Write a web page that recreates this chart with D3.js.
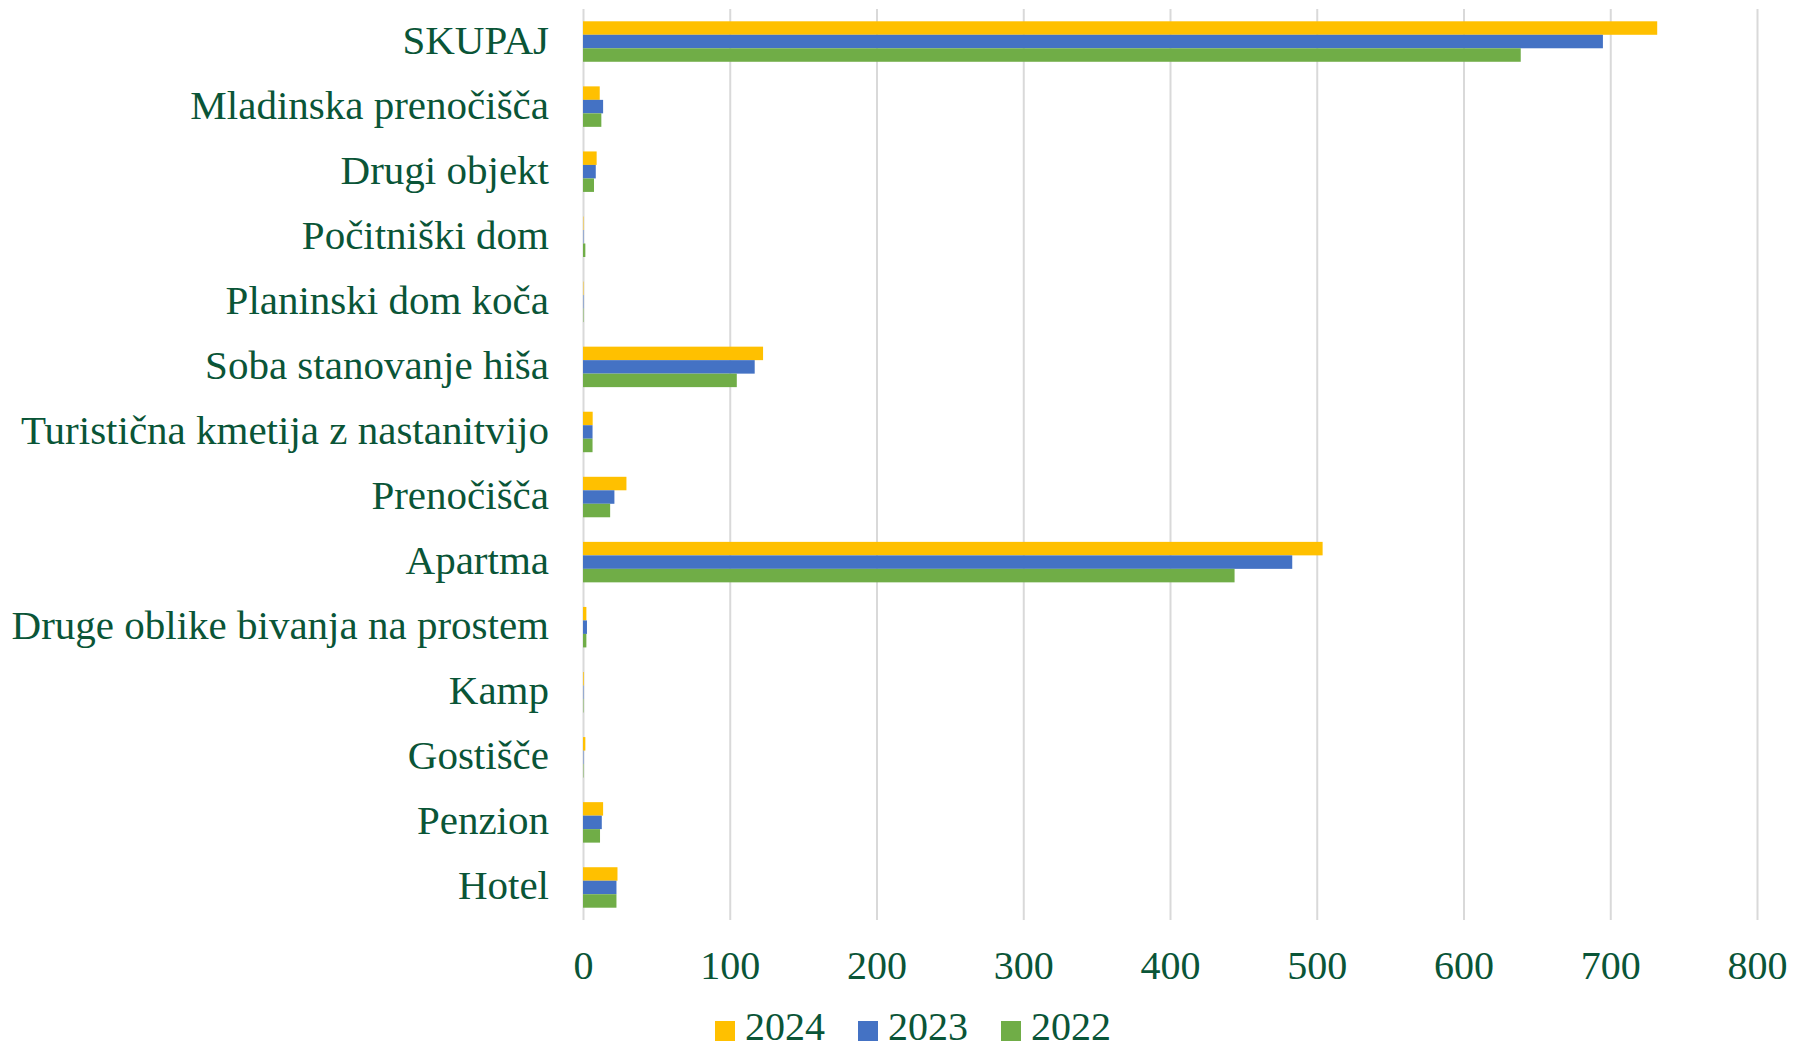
<!DOCTYPE html>
<html>
<head>
<meta charset="utf-8">
<script src="https://cdn.jsdelivr.net/npm/d3@7"></script>
<style>
  html, body { margin: 0; padding: 0; background: #ffffff; }
  svg { display: block; }
</style>
</head>
<body>
<svg id="chart" width="1793" height="1050"></svg>
<script>
const categories = [
  "SKUPAJ",
  "Mladinska prenočišča",
  "Drugi objekt",
  "Počitniški dom",
  "Planinski dom koča",
  "Soba stanovanje hiša",
  "Turistična kmetija z nastanitvijo",
  "Prenočišča",
  "Apartma",
  "Druge oblike bivanja na prostem",
  "Kamp",
  "Gostišče",
  "Penzion",
  "Hotel"
];
const seriesNames = ["2024", "2023", "2022"];
const values2024 = [732, 11.4, 9.3, 0.3, 0.3, 122.7, 6.6, 29.6, 504, 2.3, 0.5, 1.6, 13.7, 23.5];
const values2023 = [695, 13.7, 8.7, 0.3, 0.3, 117, 6.5, 21.4, 483.3, 2.7, 0.3, 0.3, 12.8, 22.8];
const values2022 = [639, 12.5, 7.5, 1.6, 0.3, 104.8, 6.5, 18.5, 444, 2.3, 0.3, 0.3, 11.6, 22.8];
const xTicks = [0, 100, 200, 300, 400, 500, 600, 700, 800];
const seriesColors = ["#FFC000", "#4472C4", "#70AD47"];

const seriesValues = [values2024, values2023, values2022];
const textColor = "#0a5537";
const fontFamily = "'Liberation Serif', 'Times New Roman', serif";

const svg = d3.select("#chart");
const plotLeft = 583, plotRight = 1757, plotTop = 9, plotBottom = 920;

const x = d3.scaleLinear().domain([0, 800]).range([plotLeft, plotRight]);
const y = d3.scaleBand().domain(categories).range([plotTop, plotBottom]).paddingInner(0).paddingOuter(0);
const groupFrac = 0.622;
const inner = d3.scaleBand().domain(seriesNames)
  .range([0, y.bandwidth() * groupFrac]);

// gridlines + x tick labels
const xAxis = d3.axisBottom(x).tickValues(xTicks).tickFormat(d3.format("d"))
  .tickSizeInner(-(plotBottom - plotTop)).tickSizeOuter(0);
const gx = svg.append("g").attr("transform", `translate(0,${plotBottom})`).call(xAxis);
gx.select(".domain").remove();
gx.selectAll(".tick line").attr("stroke", "#D9D9D9").attr("stroke-width", 2);
gx.selectAll(".tick text")
  .attr("y", 59).attr("dy", 0)
  .attr("fill", textColor)
  .style("font-family", fontFamily)
  .style("font-size", "40px");

// bars
const groups = svg.append("g").selectAll("g")
  .data(categories)
  .join("g")
  .attr("transform", d => `translate(0,${y(d) + (y.bandwidth() * (1 - groupFrac)) / 2})`);

groups.selectAll("rect")
  .data((d, i) => seriesNames.map((s, j) => ({ s, j, v: seriesValues[j][i] })))
  .join("rect")
  .attr("x", x(0))
  .attr("y", d => inner(d.s))
  .attr("width", d => x(d.v) - x(0))
  .attr("height", inner.bandwidth())
  .attr("fill", d => seriesColors[d.j]);

// category labels
const yAxis = d3.axisLeft(y).tickSize(0).tickPadding(0);
const gy = svg.append("g").attr("transform", `translate(549,0)`).call(yAxis);
gy.select(".domain").remove();
gy.selectAll(".tick text")
  .attr("x", 0).attr("dy", 0).attr("y", 12)
  .attr("fill", textColor)
  .style("font-family", fontFamily)
  .style("font-size", "41px");

// legend
const legend = svg.append("g");
let lx = 0;
seriesNames.forEach((s, j) => {
  const g = legend.append("g");
  g.append("rect").attr("x", 0).attr("y", 1021).attr("width", 20).attr("height", 20).attr("fill", seriesColors[j]);
  const t = g.append("text").attr("x", 30).attr("y", 1040).text(s)
    .attr("fill", textColor).style("font-family", fontFamily).style("font-size", "40px");
  const w = t.node().getComputedTextLength();
  g.attr("transform", `translate(${lx},0)`);
  lx += 30 + w + 33;
});
const totalW = lx - 33;
legend.attr("transform", `translate(${913 - totalW / 2},0)`);
</script>
</body>
</html>
